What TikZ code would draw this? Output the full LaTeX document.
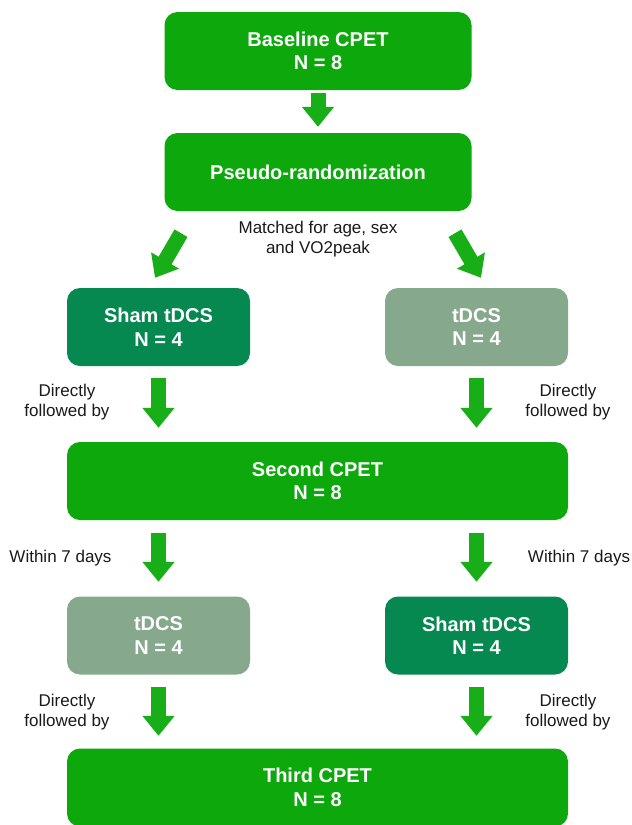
\documentclass[tikz,border=0pt]{standalone}
\usepackage{fontspec}
\setmainfont{Liberation Sans}
\usetikzlibrary{arrows.meta}
\definecolor{mainGreen}{RGB}{12,168,12}
\definecolor{arrowGreen}{RGB}{24,174,24}
\definecolor{darkGreen}{RGB}{5,137,80}
\definecolor{greyGreen}{RGB}{134,169,141}
\definecolor{labelText}{RGB}{26,26,26}
\begin{document}
\begin{tikzpicture}[x=1pt,y=-1pt,
  box/.style={rounded corners=13pt, minimum height=78pt, inner sep=0pt, align=center,
    text=white, font=\fontsize{20}{23.5}\selectfont\bfseries},
  wideBox/.style={box, fill=mainGreen, minimum width=307pt},
  widestBox/.style={box, fill=mainGreen, minimum width=501pt},
  shamBox/.style={box, fill=darkGreen, minimum width=183pt},
  realBox/.style={box, fill=greyGreen, minimum width=183pt},
  lbl/.style={align=center, font=\fontsize{17}{20}\selectfont, text=labelText, inner sep=0pt},
  flow/.style={draw=arrowGreen, line width=15pt, -{Triangle[length=20pt,width=31pt]}}
]
\clip (0,0) rectangle (632,825);
\fill[white] (0,0) rectangle (632,825);

% boxes
\node[wideBox] (base) at (318,51) {Baseline CPET\\N = 8};
\node[wideBox] (pseudo) at (318,172) {Pseudo-randomization};
\node[shamBox] (shamA) at (158.5,327) {Sham tDCS\\N = 4};
\node[realBox] (realA) at (476.5,327) {tDCS\\N = 4};
\node[widestBox] (second) at (317.5,481) {Second CPET\\N = 8};
\node[realBox] (realB) at (158.5,635.5) {tDCS\\N = 4};
\node[shamBox] (shamB) at (476.5,635.5) {Sham tDCS\\N = 4};
\node[widestBox] (third) at (317.5,787.5) {Third CPET\\N = 8};

% labels
\node[lbl] (matched) at (318,239.5) {Matched for age, sex\\and VO2peak};
\node[lbl] (dfA) at (67,402) {Directly\\followed by};
\node[lbl] (dfB) at (568,402) {Directly\\followed by};
\node[lbl, anchor=base] (wA) at (60.5,562) {Within 7 days};
\node[lbl, anchor=base] (wB) at (579,562) {Within 7 days};
\node[lbl] (dfC) at (67,712) {Directly\\followed by};
\node[lbl] (dfD) at (568,712) {Directly\\followed by};

% helper coordinates
\coordinate (s1) at (shamA.south |- second.north);
\coordinate (s2) at (realA.south |- second.north);
\coordinate (s3) at (realB.north |- second.south);
\coordinate (s4) at (shamB.north |- second.south);
\coordinate (s5) at (realB.south |- third.north);
\coordinate (s6) at (shamB.south |- third.north);

% arrows
\draw[flow] ([yshift=-3pt]base.south) -- ([yshift=6pt]pseudo.north);
\draw[flow] ([xshift=-137pt,yshift=-22pt]pseudo.south) -- ([xshift=-3.5pt,yshift=10pt]shamA.north);
\draw[flow] ([xshift=137pt,yshift=-22pt]pseudo.south) -- ([xshift=4.5pt,yshift=10pt]realA.north);
\draw[flow] ([yshift=-12pt]shamA.south) -- ([yshift=14pt]s1);
\draw[flow] ([yshift=-12pt]realA.south) -- ([yshift=14pt]s2);
\draw[flow] ([yshift=-13pt]s3) -- ([yshift=14.5pt]realB.north);
\draw[flow] ([yshift=-13pt]s4) -- ([yshift=14.5pt]shamB.north);
\draw[flow] ([yshift=-12.5pt]realB.south) -- ([yshift=12.5pt]s5);
\draw[flow] ([yshift=-12.5pt]shamB.south) -- ([yshift=12.5pt]s6);
\end{tikzpicture}
\end{document}
